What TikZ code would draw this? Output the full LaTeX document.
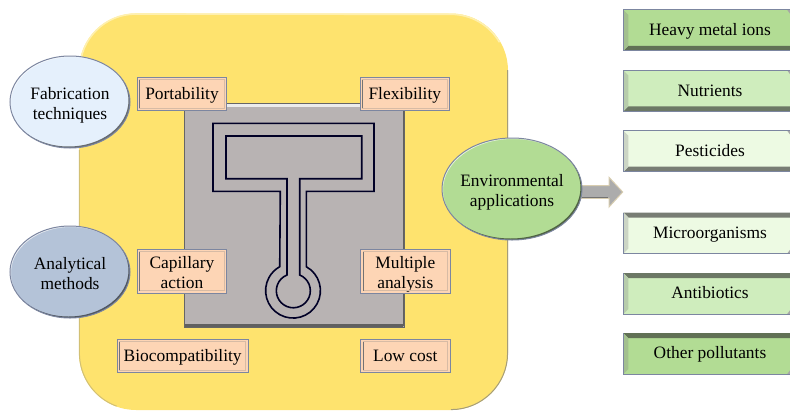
\documentclass[tikz,border=0pt]{standalone}
\usepackage{fontspec}
\setmainfont{Liberation Serif}
\usetikzlibrary{shapes.geometric}
\definecolor{padyellow}{HTML}{FEE36E}
\definecolor{chipgray}{HTML}{B8B3B3}
\definecolor{boxpeach}{HTML}{FDD5B5}
\definecolor{edgeblue}{HTML}{7C86A0}
\definecolor{bluelight}{HTML}{E5F0FC}
\definecolor{bluegray}{HTML}{B4C3D8}
\definecolor{greenmid}{HTML}{B2DC94}
\definecolor{greenpale}{HTML}{CFEDBD}
\definecolor{greenwhite}{HTML}{EDFAE3}
\definecolor{arrowrim}{HTML}{D8CDB0}
\newcommand\lowr[1]{\rule{0pt}{\dimexpr 14pt+#1pt*2\relax}}
\tikzset{
  txt/.style={font=\fontsize{17.4}{20}\selectfont,align=center,text=black,execute at begin node=\strut,execute at end node=\strut},
  peach/.style={txt,draw=edgeblue,fill=boxpeach,line width=1pt,inner sep=0pt,inner ysep=-5pt},
  blob/.style={txt,ellipse,inner sep=0pt,minimum width=120pt,minimum height=92pt},
  target/.style={txt,fill=#1,minimum width=166.5pt,minimum height=40.6pt,inner sep=0pt},
  channel/.style={draw=black!85!blue,line width=1.6pt,line join=miter},
}
\begin{document}
\begin{tikzpicture}[x=1pt,y=-1pt]
\useasboundingbox (0,0) rectangle (790,410);
\fill[padyellow,rounded corners=57pt] (79,13.5) rectangle (508,410);
% rim of the pad
\draw[white!45!padyellow,line width=1.6pt] (79.8,70) arc[start angle=180,end angle=90,radius=56pt] -- (451,14.3) arc[start angle=90,end angle=30,radius=56pt];
\draw[gray!70!padyellow,line width=1pt] (507.6,70) -- (507.6,353) arc[start angle=0,end angle=-90,radius=56.6pt];
\draw[gray!35!padyellow,line width=1pt] (79.4,150) -- (79.4,353) arc[start angle=180,end angle=250,radius=56.6pt];
% chip
\draw[fill=chipgray,draw=gray!80!black,line width=1pt] (184,103) rectangle (404,327);
\draw[gray!15,line width=3pt] (186,105.5) -- (402,105.5);
\draw[gray!75!black,line width=2.5pt] (185,325.3) -- (403,325.3);
\draw[gray!75!black,line width=1.2pt] (403.2,104) -- (403.2,326);
% channel, outer and inner line
\draw[channel] (213,123.3) -- (374,123.3) -- (374,191.3) -- (306.3,191.3) -- (306.3,266.7)
  arc[start angle=61,end angle=-241,radius=27.4pt] -- (280.3,191.3) -- (213,191.3) -- cycle;
\draw[channel] (226,136) -- (361.7,136) -- (361.7,178.7) -- (299.7,178.7) -- (299.7,275)
  arc[start angle=68,end angle=-248,radius=17pt] -- (287,178.7) -- (226,178.7) -- cycle;
% peach labels
\foreach \name/\x/\y/\w/\h/\dn/\label in {
  port/182/94/89.4/33.7/1/Portability,
  flex/404.8/94/89.4/33.7/1/Flexibility,
  capi/182/271.3/89.4/44/3.6/{Capillary\\action},
  mult/405.3/271.3/89.4/44/3.3/{Multiple\\analysis},
  bioc/182.7/356/130.7/33.4/1/Biocompatibility,
  lowc/405.3/356/89.4/33.4/1/Low cost}{
  \node[peach,minimum width=\w pt,minimum height=\h pt] (\name) at (\x,\y) {\lowr{\dn}\label};
  \draw[boxpeach!70!gray,line width=.8pt] ([shift={(3,-3)}]\name.south west) rectangle ([shift={(-3,3)}]\name.north east);
  \draw[gray!90!black,line width=1pt] ([shift={(3,-3)}]\name.south west) -- ([shift={(3,3)}]\name.north west);
}
% ellipses
\coordinate (arrowfoot) at (578,192);
% arrow
\draw[arrowrim,fill=gray!65,line width=1pt,line join=miter] (arrowfoot) ++(0,-6.3) -- ++(31,0) -- ++(0,-8.4) -- (622.7,192) -- (609,207) -- ++(0,-8.7) -- ++(-31,0) -- cycle;
\draw[gray!90!black,line width=1.6pt] (582,197.3) -- (608,197.3);
\foreach \name/\x/\y/\rx/\ry/\col/\label in {
  fab/70/102/60/46/bluelight/{Fabrication\\techniques},
  ana/70/272/60/46/bluegray/{Analytical\\methods},
  env/512/189/70/51/greenmid/{Environmental\\applications}}{
  \fill[\col] (\x,\y) ellipse [x radius=\rx pt,y radius=\ry pt];
  \begin{scope}
    \clip (\x,\y) ellipse [x radius=\rx pt,y radius=\ry pt];
    \fill[even odd rule,\col!45!black] (\x-80,\y-60) rectangle (\x+80,\y+60) (\x-1.5,\y-1.5) ellipse [x radius=\rx pt,y radius=\ry pt];
    \fill[even odd rule,white!70!\col] (\x-80,\y-60) rectangle (\x+80,\y+60) (\x+1,\y+1) ellipse [x radius=\rx pt,y radius=\ry pt];
  \end{scope}
  \draw[edgeblue,line width=1pt] (\x,\y) ellipse [x radius=\rx pt,y radius=\ry pt];
  \node[blob] (\name) at (\x,\y) {\lowr{3}\label};
}
% targets, bevel below
\foreach \name/\y/\col/\label in {
  hvy/30.4/greenmid/Heavy metal ions,
  nut/90.9/greenpale/Nutrients,
  pes/151.2/greenwhite/Pesticides}{
  \node[target=\col] (\name) at (706.75,\y) {\hspace*{6.5pt}\lowr{1.2}\label};
  \fill[\col!50!black!80!gray] (\name.south west) -- (\name.south east) -- ++(0,-5) -- ([shift={(5,-5)}]\name.south west) -- cycle;
  \fill[\col!70!gray] (\name.south west) -- ([shift={(5,-5)}]\name.south west) -- ([shift={(5,5)}]\name.north west) -- (\name.north west) -- cycle;
  \fill[gray!70] (\name.north east) -- ++(-3,0) -- ++(3,4) -- cycle;
  \draw[edgeblue,line width=1pt] (\name.north east) -- (\name.north west) -- (\name.south west) -- (\name.south east);
}
% targets, bevel above
\foreach \name/\y/\col/\label in {
  mic/233/greenwhite/Microorganisms,
  ant/293.5/greenpale/Antibiotics,
  oth/353.6/greenmid/Other pollutants}{
  \node[target=\col] (\name) at (706.75,\y) {\hspace*{6.5pt}\lowr{1.2}\label};
  \fill[\col!50!black!80!gray] (\name.north west) -- (\name.north east) -- ++(0,5) -- ([shift={(5,5)}]\name.north west) -- cycle;
  \fill[\col!70!gray] (\name.south west) -- ([shift={(5,-5)}]\name.south west) -- ([shift={(5,5)}]\name.north west) -- (\name.north west) -- cycle;
  \fill[gray!70] (\name.south east) -- ++(-3,0) -- ++(3,-4) -- cycle;
  \draw[edgeblue,line width=1pt] (\name.north west) -- (\name.south west) -- (\name.south east);
}
\end{tikzpicture}
\end{document}
